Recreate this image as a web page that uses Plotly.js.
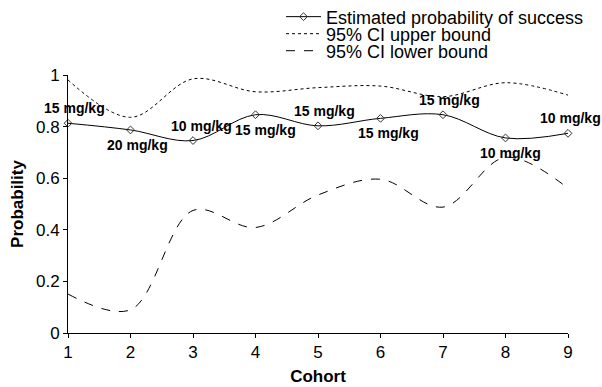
<!DOCTYPE html>
<html>
<head>
<meta charset="utf-8">
<script src="https://cdn.plot.ly/plotly-3.0.1.min.js"></script>
<style>html,body{margin:0;padding:0;background:#fff;}#chart{width:602px;height:387px;}</style>
</head>
<body>
<div id="chart"></div>
<script>
// ---- data ----
var cohorts = [1, 2, 3, 4, 5, 6, 7, 8, 9];
var estimate = [0.813, 0.787, 0.746, 0.846, 0.803, 0.832, 0.846, 0.756, 0.774];
var upperCI = [0.981, 0.836, 0.985, 0.935, 0.951, 0.957, 0.916, 0.970, 0.922];
var lowerCI = [0.151, 0.090, 0.475, 0.409, 0.535, 0.596, 0.488, 0.681, 0.561];
var doses = ['15 mg/kg', '20 mg/kg', '10 mg/kg', '15 mg/kg', '15 mg/kg', '15 mg/kg', '15 mg/kg', '10 mg/kg', '10 mg/kg'];
var seriesNames = ['Estimated probability of success', '95% CI upper bound', '95% CI lower bound'];
var xTicks = [1, 2, 3, 4, 5, 6, 7, 8, 9];
var yTicks = [0, 0.2, 0.4, 0.6, 0.8, 1];
var yTickText = ['0', '0.2', '0.4', '0.6', '0.8', '1'];

// ---- styling (label placement relative to the point, in pixels) ----
var labelAbove = [true, false, true, false, true, false, true, false, true];
var labelDx = [6, 7, 8, 10, 6, 8, 6, 5, 2];

var FONT = 'Arial, "Liberation Sans", Helvetica, sans-serif';

var traces = [
  {
    x: cohorts, y: estimate, name: seriesNames[0], mode: 'lines+markers',
    line: {color: '#000', width: 1, shape: 'spline', smoothing: 1},
    marker: {symbol: 'diamond-open', size: 6, color: '#333', line: {width: 1, color: '#333'}},
    cliponaxis: false, legend: 'legend'
  },
  {
    x: cohorts, y: upperCI, name: seriesNames[1], mode: 'lines',
    line: {color: '#000', width: 1, dash: 'dot', shape: 'spline', smoothing: 1},
    cliponaxis: false, legend: 'legend2'
  },
  {
    x: cohorts, y: lowerCI, name: seriesNames[2], mode: 'lines',
    line: {color: '#000', width: 1, dash: 'dash', shape: 'spline', smoothing: 1},
    cliponaxis: false, legend: 'legend3'
  }
];

var annotations = cohorts.map(function (c, i) {
  return {
    x: c, y: estimate[i], xref: 'x', yref: 'y', text: doses[i], showarrow: false,
    xshift: labelDx[i], yshift: labelAbove[i] ? 15 : -15,
    font: {family: FONT, size: 14, color: '#000', weight: 'bold'}
  };
});

function legendAt(y) {
  return {
    x: 0.426, y: y, xanchor: 'left', yanchor: 'middle', xref: 'paper', yref: 'paper',
    bgcolor: 'rgba(0,0,0,0)', borderwidth: 0, itemwidth: 35,
    font: {family: FONT, size: 18, color: '#000'}
  };
}

var layout = {
  width: 602, height: 387,
  margin: {l: 68, r: 34, t: 75, b: 54, autoexpand: false},
  paper_bgcolor: '#fff', plot_bgcolor: '#fff',
  showlegend: true,
  legend: legendAt(1.225),
  legend2: legendAt(1.159),
  legend3: legendAt(1.093),
  xaxis: {
    range: [1, 9], tickvals: xTicks, ticktext: xTicks.map(String),
    showgrid: false, zeroline: false, showline: true, linecolor: '#000', linewidth: 1,
    ticks: 'outside', ticklen: 4, tickcolor: '#000',
    tickfont: {family: FONT, size: 17, color: '#000'},
    title: {text: 'Cohort', font: {family: FONT, size: 17, color: '#000', weight: 'bold'}, standoff: 8}
  },
  yaxis: {
    range: [0, 1], tickvals: yTicks, ticktext: yTickText,
    showgrid: false, zeroline: false, showline: true, linecolor: '#000', linewidth: 1,
    ticks: 'outside', ticklen: 4, tickcolor: '#000',
    tickfont: {family: FONT, size: 17, color: '#000'},
    title: {text: 'Probability', font: {family: FONT, size: 17, color: '#000', weight: 'bold'}, standoff: 8}
  },
  annotations: annotations
};

Plotly.newPlot('chart', traces, layout, {displayModeBar: false, staticPlot: true});
</script>
</body>
</html>
